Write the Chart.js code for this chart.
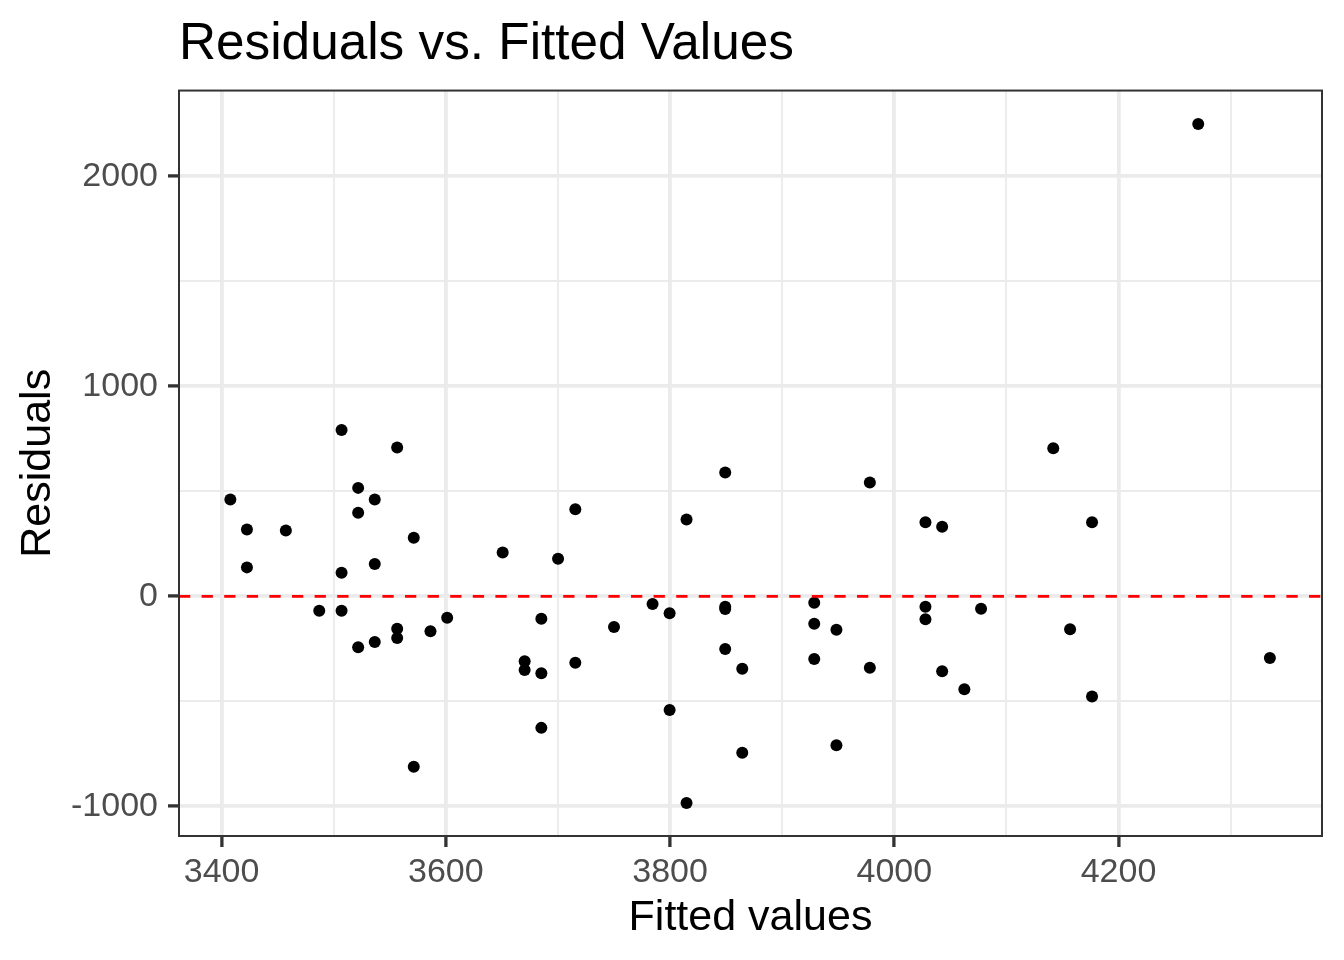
<!DOCTYPE html>
<html>
<head>
<meta charset="utf-8">
<script src="https://cdn.jsdelivr.net/npm/chart.js@4.4.1/dist/chart.umd.min.js"></script>
<style>
  html, body { margin: 0; padding: 0; background: #ffffff; }
  #wrap { width: 1344px; height: 960px; position: relative; }
</style>
</head>
<body>
<div id="wrap"><canvas id="c"></canvas></div>
<script>
// ---- data ----
const fittedValues = [
  3407.8, 3422.6, 3422.6, 3457.3, 3487.1, 3507.0, 3507.0, 3507.0, 3521.8, 3521.8,
  3521.8, 3536.6, 3536.6, 3536.6, 3556.6, 3556.6, 3556.6, 3571.4, 3571.4, 3586.3,
  3601.2, 3650.7, 3670.3, 3670.3, 3685.2, 3685.2, 3685.2, 3700.1, 3715.5, 3715.5,
  3750.0, 3784.4, 3799.6, 3799.6, 3814.7, 3814.7, 3849.2, 3849.2, 3849.2, 3849.2,
  3864.4, 3864.4, 3928.6, 3928.6, 3928.6, 3948.4, 3948.4, 3978.2, 3978.2, 4027.8,
  4027.8, 4027.8, 4042.7, 4042.7, 4062.5, 4077.4, 4141.8, 4156.8, 4176.4, 4176.4,
  4271.1, 4335.0
];
const residuals = [
  461, 318.6, 137.9, 313.8, -68.5, 792.2, 112.2, -68.5, 516.4, 397.5,
  -242.5, 461, 153.6, -217.3, 708.5, -154.1, -198.3, 278.6, -811.7, -166.4,
  -101.8, 209.2, -309.1, -350.5, -106.5, -366.1, -626.2, 178.8, 415.1, -315.7,
  -146, -36.6, -80.8, -540.7, 366.1, -984.3, 589.6, -49.5, -60.4, -250.6,
  -344.3, -745.1, -30.4, -130.3, -298.1, -158.8, -708.5, 542.1, -339.5, 353.3,
  -49.5, -109.4, 331, -356.6, -442.2, -59, 705.2, -156.9, 353.3, -477.4,
  2249.2, -293.4
];
const xMajorTicks = [3400, 3600, 3800, 4000, 4200];
const xMinorTicks = [3500, 3700, 3900, 4100, 4300];
const yMajorTicks = [-1000, 0, 1000, 2000];
const yMinorTicks = [-500, 500, 1500];
const xLimits = [3362, 4381.5];
const yLimits = [-1141, 2408];
const referenceLineY = 0;
const chartTitle = 'Residuals vs. Fitted Values';
const xAxisTitle = 'Fitted values';
const yAxisTitle = 'Residuals';

// ---- styling ----
const FONT = "'Liberation Sans', Arial, Helvetica, sans-serif";
const GRID_COLOR = '#EBEBEB';
const AXIS_DARK = '#333333';
const TICK_TEXT = '#4D4D4D';

const points = fittedValues.map((x, i) => ({ x: x, y: residuals[i] }));
const refLine = xLimits.map(x => ({ x: x, y: referenceLineY }));

function isMajor(list, ctx) {
  return ctx && ctx.tick && list.includes(ctx.tick.value);
}

const panelBorder = {
  id: 'panelBorder',
  afterDraw(chart) {
    const { ctx, chartArea: a } = chart;
    ctx.save();
    ctx.strokeStyle = AXIS_DARK;
    ctx.lineWidth = 2;
    ctx.strokeRect(a.left, a.top, a.right - a.left, a.bottom - a.top);
    ctx.restore();
  }
};

new Chart(document.getElementById('c'), {
  type: 'scatter',
  data: {
    datasets: [
      {
        type: 'line',
        data: refLine,
        borderColor: '#FF0000',
        borderWidth: 2.8,
        borderDash: [11.3, 11.3],
        pointRadius: 0,
        fill: false,
        order: 0
      },
      {
        type: 'scatter',
        data: points,
        backgroundColor: '#000000',
        borderWidth: 0,
        pointRadius: 6,
        pointHoverRadius: 6,
        order: 1
      }
    ]
  },
  plugins: [panelBorder],
  options: {
    responsive: true,
    maintainAspectRatio: false,
    animation: false,
    events: [],
    layout: { padding: { left: 0, right: 22, top: 0, bottom: 0 } },
    plugins: {
      legend: { display: false },
      tooltip: { enabled: false },
      title: {
        display: true,
        text: chartTitle,
        align: 'start',
        fullSize: false,
        color: '#000000',
        font: { family: FONT, size: 51.3, weight: 'normal', lineHeight: 1.2 },
        padding: { top: 14, bottom: 15 }
      }
    },
    scales: {
      x: {
        type: 'linear',
        min: xLimits[0],
        max: xLimits[1],
        afterBuildTicks: (s) => {
          s.ticks = xMajorTicks.concat(xMinorTicks).sort((a, b) => a - b).map(v => ({ value: v }));
        },
        afterFit: (s) => { s.height = 124; },
        ticks: {
          autoSkip: false,
          maxRotation: 0,
          padding: 5,
          color: TICK_TEXT,
          font: { family: FONT, size: 34 },
          callback: (v) => xMajorTicks.includes(v) ? String(v) : ''
        },
        grid: {
          color: GRID_COLOR,
          lineWidth: (ctx) => isMajor(xMajorTicks, ctx) ? 3.8 : 1.9,
          tickLength: 11,
          tickWidth: 3.3,
          tickColor: (ctx) => isMajor(xMajorTicks, ctx) ? AXIS_DARK : 'rgba(0,0,0,0)'
        },
        border: { display: false },
        title: {
          display: true,
          text: xAxisTitle,
          color: '#000000',
          font: { family: FONT, size: 43, lineHeight: 1.2 },
          padding: { top: 0, bottom: 16 }
        }
      },
      y: {
        type: 'linear',
        min: yLimits[0],
        max: yLimits[1],
        afterBuildTicks: (s) => {
          s.ticks = yMajorTicks.concat(yMinorTicks).sort((a, b) => a - b).map(v => ({ value: v }));
        },
        afterFit: (s) => { s.width = 179; },
        ticks: {
          autoSkip: false,
          padding: 10,
          color: TICK_TEXT,
          font: { family: FONT, size: 34 },
          callback: (v) => yMajorTicks.includes(v) ? String(v) : ''
        },
        grid: {
          color: GRID_COLOR,
          lineWidth: (ctx) => isMajor(yMajorTicks, ctx) ? 3.8 : 1.9,
          tickLength: 11,
          tickWidth: 3.3,
          tickColor: (ctx) => isMajor(yMajorTicks, ctx) ? AXIS_DARK : 'rgba(0,0,0,0)'
        },
        border: { display: false },
        title: {
          display: true,
          text: yAxisTitle,
          color: '#000000',
          font: { family: FONT, size: 43, lineHeight: 1.2 },
          padding: { top: 12, bottom: 0 }
        }
      }
    }
  }
});
</script>
</body>
</html>
